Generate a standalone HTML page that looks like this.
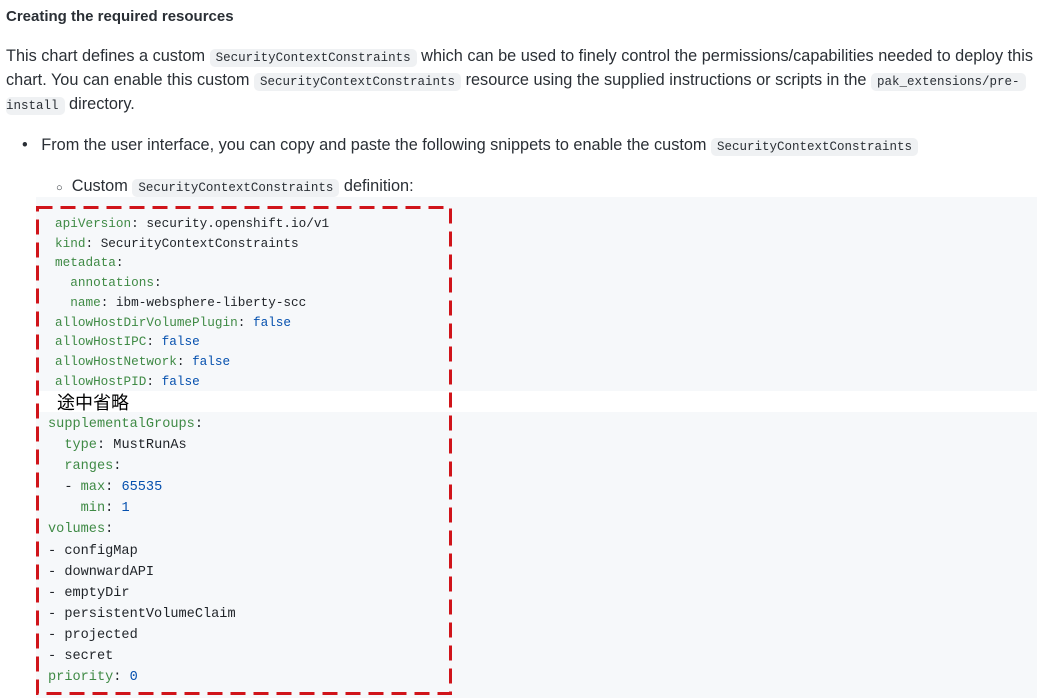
<!DOCTYPE html>
<html><head><meta charset="utf-8"><style>
html,body{margin:0;padding:0;background:#fff;width:1037px;height:698px;overflow:hidden;position:relative;font-family:"Liberation Sans","Noto Sans CJK JP",sans-serif;color:#2a2f35}
.t{position:absolute;white-space:nowrap;font-size:16.3px;line-height:20px}
code{font-family:"Liberation Mono",monospace;font-size:12.5px;background:#eff1f3;border-radius:5px;padding:2px 6px}
.bg{position:absolute;left:36px;width:1001px;background:#f6f8fa}
.c{position:absolute;white-space:nowrap;font-family:"Liberation Mono",monospace;color:#1f2328}
.k{color:#3f8a45}.v{color:#0550ae}
</style></head><body>
<div class="t" style="left:6px;top:7px;font-weight:bold;font-size:15px">Creating the required resources</div>
<div class="t" style="left:6px;top:46px">This chart defines a custom <code>SecurityContextConstraints</code> which can be used to finely control the permissions/capabilities needed to deploy this</div>
<div class="t" style="left:6px;top:70px">chart. You can enable this custom <code>SecurityContextConstraints</code> resource using the supplied instructions or scripts in the <code>pak_extensions/pre-</code></div>
<div class="t" style="left:6px;top:94px"><code style="padding-left:0">install</code> directory.</div>
<div class="t" style="left:22px;top:135px">•&nbsp;&nbsp; From the user interface, you can copy and paste the following snippets to enable the custom <code>SecurityContextConstraints</code></div>
<div class="t" style="left:56px;top:176px"><span style="font-size:11px">○</span>&nbsp; Custom <code>SecurityContextConstraints</code> definition:</div>
<div class="bg" style="top:197px;height:194px"></div>
<div class="bg" style="top:412px;height:286px"></div>
<div class="c" style="left:55px;top:214px;font-size:12.7px;line-height:19.7px">
<span class="k">apiVersion</span>: security.openshift.io/v1<br>
<span class="k">kind</span>: SecurityContextConstraints<br>
<span class="k">metadata</span>:<br>
&nbsp;&nbsp;<span class="k">annotations</span>:<br>
&nbsp;&nbsp;<span class="k">name</span>: ibm-websphere-liberty-scc<br>
<span class="k">allowHostDirVolumePlugin</span>: <span class="v">false</span><br>
<span class="k">allowHostIPC</span>: <span class="v">false</span><br>
<span class="k">allowHostNetwork</span>: <span class="v">false</span><br>
<span class="k">allowHostPID</span>: <span class="v">false</span>
</div>
<div class="t" style="left:57px;top:392px;font-size:18px;line-height:22px;color:#000">途中省略</div>
<div class="c" style="left:48px;top:414px;font-size:13.6px;line-height:21.1px">
<span class="k">supplementalGroups</span>:<br>
&nbsp;&nbsp;<span class="k">type</span>: MustRunAs<br>
&nbsp;&nbsp;<span class="k">ranges</span>:<br>
&nbsp;&nbsp;- <span class="k">max</span>: <span class="v">65535</span><br>
&nbsp;&nbsp;&nbsp;&nbsp;<span class="k">min</span>: <span class="v">1</span><br>
<span class="k">volumes</span>:<br>
- configMap<br>
- downwardAPI<br>
- emptyDir<br>
- persistentVolumeClaim<br>
- projected<br>
- secret<br>
<span class="k">priority</span>: <span class="v">0</span>
</div>
<svg style="position:absolute;left:0;top:0" width="1037" height="698">
<rect x="37.5" y="207.5" width="413" height="486" fill="none" stroke="#d0141a" stroke-width="3" stroke-dasharray="15,8"/>
</svg>
</body></html>
